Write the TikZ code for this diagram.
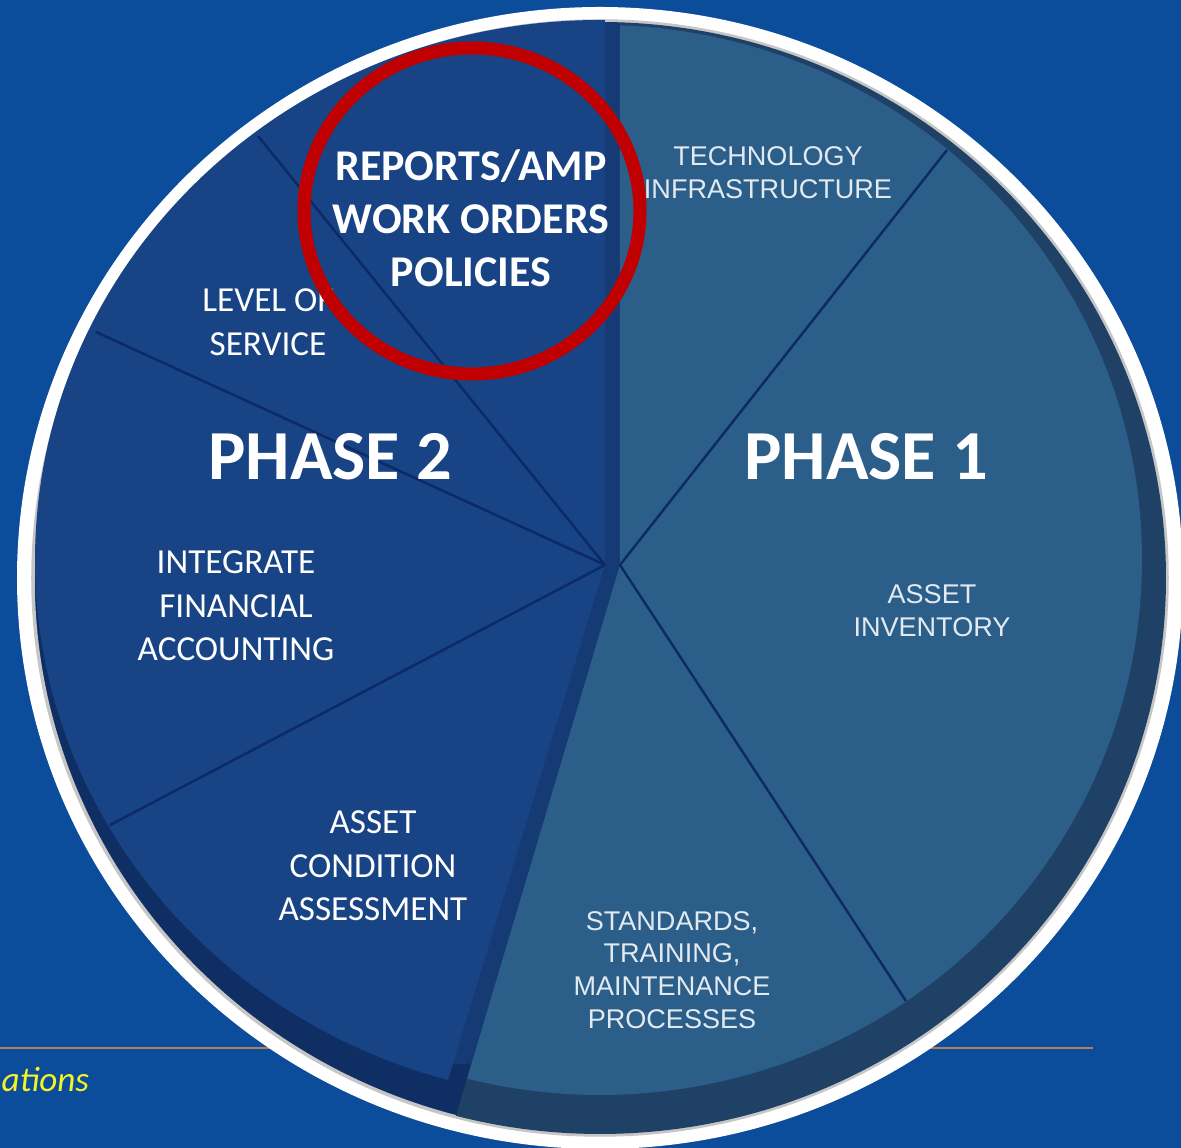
\documentclass[tikz,border=0pt]{standalone}
\usepackage{fontspec}
\setmainfont{Carlito}
\newfontfamily\arialfont{Liberation Sans}
\usetikzlibrary{positioning,calc}

\definecolor{bgblue}{HTML}{0B4C9B}
\definecolor{facetwo}{HTML}{184385}
\definecolor{faceone}{HTML}{2C5E8A}
\definecolor{sidetwo}{HTML}{0F2E63}
\definecolor{sideone}{HTML}{1F4166}
\definecolor{bandtwo}{HTML}{163A74}
\definecolor{divline}{HTML}{0D2A66}
\definecolor{paletext}{HTML}{E2EAF0}
\definecolor{ringred}{HTML}{C00000}
\definecolor{rulebrown}{HTML}{B58055}
\definecolor{noteyellow}{HTML}{F4F42A}

\begin{document}
\begin{tikzpicture}[x=0.1mm,y=0.1mm]
  %----- styles
  \tikzset{
    divider/.style  ={draw=divline,line width=0.7pt},
    boldlbl/.style  ={text=white,align=center,font=\bfseries\fontsize{12.5}{15.1}\selectfont},
    phaselbl/.style ={text=white,font=\bfseries\fontsize{20}{24}\selectfont},
    twolbl/.style   ={text=white,align=center,font=\fontsize{10}{12.4}\selectfont},
    onelbl/.style   ={text=paletext,align=center,font=\arialfont\fontsize{7.7}{9.3}\selectfont},
    ring/.style     ={draw=ringred,line width=3.7pt}
  }

  %----- canvas
  \useasboundingbox (0,0) rectangle (1181,1148);
  \fill[bgblue] (0,0) rectangle (1181,1148);

  % footer rule and note
  \draw[rulebrown,line width=0.4pt] (0,100) -- (1093,100);
  \node[anchor=west,inner sep=0pt,text=noteyellow,font=\itshape\fontsize{10}{12}\selectfont] (note) at (1,68) {ations};

  %----- disc
  \coordinate (rim) at (600,570);
  \coordinate (fc)  at (600,588);
  \coordinate (c2)  at (605,583);
  \coordinate (c1)  at (620,583);
  \fill[white] (rim) ellipse [x radius=583, y radius=571];
  \fill[sidetwo] (rim) ellipse [x radius=566, y radius=556];
  \draw[gray!45,line width=1pt] (rim) ellipse [x radius=567, y radius=557];

  % end points of the two faces
  \coordinate (p1a) at ($(fc)+(87.9:542 and 535)$);
  \coordinate (p1b) at ($(fc)+(-104.2:542 and 535)$);
  \coordinate (p2a) at ($(fc)+(89.5:565 and 540)$);
  \coordinate (p2b) at ($(fc)+(254.4:565 and 540)$);

  % side of phase 1
  \begin{scope}
    \clip (rim) ellipse [x radius=566, y radius=556];
    \fill[sideone] (c1) -- (620,1300) -- (1300,1300) -- (1300,-150) -- ($(c1)!1.4!(p1b)$) -- cycle;
    % band between the phases
    \fill[bandtwo] (c2) -- (605,1300) -- (620,1300) -- (c1) -- ($(c1)!0.97!(p1b)$) -- ($(c2)!0.97!(p2b)$) -- cycle;
  \end{scope}

  % faces
  \fill[facetwo] (c2) -- (p2a) arc[start angle=89.5, end angle=254.4, x radius=565, y radius=540] -- cycle;
  \fill[faceone] (c1) -- (p1a) arc[start angle=87.9, end angle=-104.2, x radius=542, y radius=535] -- cycle;

  %----- dividers
  \coordinate (d1) at (258,1012);
  \coordinate (d2) at (96,816);
  \coordinate (d3) at (110,323);
  \coordinate (d4) at (947,998);
  \coordinate (d5) at (906,147);
  \draw[divider] (c2) -- (d1);
  \draw[divider] (c2) -- (d2);
  \draw[divider] (c2) -- (d3);
  \draw[divider] (c1) -- (d4);
  \draw[divider] (c1) -- (d5);

  %----- labels
  \node[twolbl]   (los) at (268,826) {LEVEL OF\\SERVICE};
  \node[boldlbl]  (rep) at (471,930) {REPORTS/AMP\\WORK ORDERS\\POLICIES};
  \node[phaselbl] (ph2) at (330,691) {PHASE 2};
  \node[phaselbl] (ph1) at (866,691) {PHASE 1};
  \node[twolbl]   (ifa) at (236,542) {INTEGRATE\\FINANCIAL\\ACCOUNTING};
  \node[twolbl]   (aca) at (373,282) {ASSET\\CONDITION\\ASSESSMENT};
  \node[onelbl]   (tec) at (768,975) {TECHNOLOGY\\INFRASTRUCTURE};
  \node[onelbl]   (ain) at (932,537) {ASSET\\INVENTORY};
  \node[onelbl]   (stm) at (672,178) {STANDARDS,\\TRAINING,\\MAINTENANCE\\PROCESSES};

  % highlight
  \draw[ring] (472,937) ellipse [x radius=168, y radius=163];
\end{tikzpicture}
\end{document}
